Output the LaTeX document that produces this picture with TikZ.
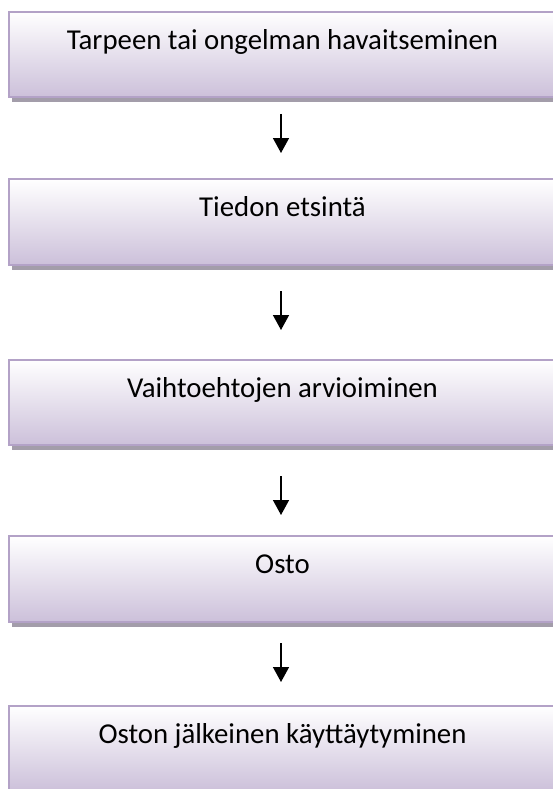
\documentclass[tikz,border=0pt]{standalone}
\usepackage{fontspec}
\setmainfont{Carlito}
\usetikzlibrary{arrows.meta,shadows}
\definecolor{lavb}{HTML}{B3A2C7}
\definecolor{lavf}{HTML}{CCC0DA}
\definecolor{shadc}{HTML}{A39DAA}
\begin{document}
\begin{tikzpicture}[x=1pt,y=-1pt,
  box/.style={draw=lavb,line width=2pt,top color=white,bottom color=lavf,
    drop shadow={shadow xshift=3pt,shadow yshift=-5pt,fill=shadc,opacity=1},
    minimum width=547.5pt,minimum height=85.5pt,inner sep=0pt},
  lbl/.style={font=\fontsize{28.8}{32}\selectfont,anchor=base,inner sep=0pt},
  arr/.style={-{Triangle[width=16pt,length=15pt]},line width=1.5pt}]
\path[use as bounding box,clip] (0,0) rectangle (553,789);
\node[box] (box1) at (282.25,54.5) {};
\node[box] (box2) at (282.25,222) {};
\node[box] (box3) at (282.25,402.5) {};
\node[box] (box4) at (282.25,579) {};
\node[box] (box5) at (282.25,748.5) {};
\node[lbl] (t1) at (282.5,49.5) {Tarpeen tai ongelman havaitseminen};
\node[lbl] (t2) at (282.5,216.5) {Tiedon etsintä};
\node[lbl] (t3) at (282.5,397.5) {Vaihtoehtojen arvioiminen};
\node[lbl] (t4) at (282.5,573.5) {Osto};
\node[lbl] (t5) at (282.5,743.5) {Oston jälkeinen käyttäytyminen};
\coordinate (a1s) at (281,114); \coordinate (a1e) at (281,153);
\coordinate (a2s) at (281,291); \coordinate (a2e) at (281,330);
\coordinate (a3s) at (281,476); \coordinate (a3e) at (281,515);
\coordinate (a4s) at (281,643); \coordinate (a4e) at (281,682);
\draw[arr] (a1s) -- (a1e);
\draw[arr] (a2s) -- (a2e);
\draw[arr] (a3s) -- (a3e);
\draw[arr] (a4s) -- (a4e);
\end{tikzpicture}
\end{document}
